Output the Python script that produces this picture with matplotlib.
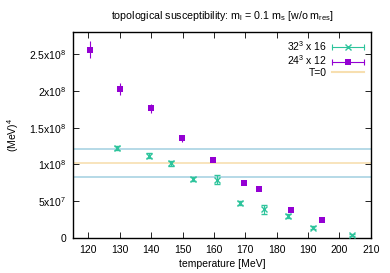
import matplotlib
matplotlib.use('Agg')
import matplotlib.pyplot as plt
from matplotlib.lines import Line2D
from matplotlib.legend_handler import HandlerLine2D, HandlerTuple

plt.rcParams['font.family'] = ['Liberation Sans', 'DejaVu Sans']
plt.rcParams['mathtext.fontset'] = 'custom'
plt.rcParams['mathtext.rm'] = 'Liberation Sans'
plt.rcParams['mathtext.it'] = 'Liberation Sans'

# 32^3 x 16
t32 = [129.1, 139.3, 146.3, 153.5, 160.9, 168.3, 176.0, 183.7, 191.7, 204.1]
chi32 = [1.22e8, 1.12e8, 1.015e8, 0.80e8, 0.79e8, 0.48e8, 0.39e8, 0.30e8, 0.14e8, 0.04e8]
err32 = [0.03e8, 0.03e8, 0.03e8, 0.03e8, 0.06e8, 0.025e8, 0.06e8, 0.03e8, 0.02e8, 0.015e8]

# 24^3 x 12
t24 = [120.4, 130.0, 140.0, 149.8, 159.6, 169.6, 174.5, 184.6, 194.5]
chi24 = [2.56e8, 2.02e8, 1.76e8, 1.355e8, 1.055e8, 0.75e8, 0.66e8, 0.385e8, 0.245e8]
err24 = [0.12e8, 0.08e8, 0.06e8, 0.05e8, 0.025e8, 0.015e8, 0.01e8, 0.015e8, 0.01e8]

# T=0 band
chi_T0 = 1.025e8
chi_T0_err = 0.19e8

green = '#2ec49c'
purple = '#9400d3'
orange = '#f7dfb0'
blue = '#a9d3e3'

def ytick(v, pos):
	if v == 0:
		return '0'
	e = 0
	m = v
	while m >= 10:
		m /= 10.0
		e += 1
	return ('%g' % m) + r'x10$^{%d}$' % e

fig = plt.figure(figsize=(3.9, 2.73), dpi=100)
ax = fig.add_axes([0.187, 0.128, 0.764, 0.755])

ax.axhline(chi_T0 + chi_T0_err, color=blue, lw=1.2, zorder=1)
ax.axhline(chi_T0 - chi_T0_err, color=blue, lw=1.2, zorder=1)
ax.axhline(chi_T0, color=orange, lw=1.2, zorder=1)
ax.errorbar(t32, chi32, yerr=err32, fmt='x', color=green, ms=4, mew=1,
			elinewidth=0.8, capsize=2.5, capthick=0.8, zorder=3)
ax.errorbar(t24, chi24, yerr=err24, fmt='s', color=purple, ms=4.5, mew=0,
			elinewidth=0.8, capsize=2.5, capthick=0.8, zorder=3)

ax.set_xlim(115.1, 210)
ax.set_ylim(0, 2.8e8)
ax.set_xticks(range(120, 211, 10))
ax.set_yticks([0, 0.5e8, 1e8, 1.5e8, 2e8, 2.5e8])
ax.yaxis.set_major_formatter(matplotlib.ticker.FuncFormatter(ytick))
ax.tick_params(direction='in', length=4, width=0.6, labelsize=7.5, top=True, right=True, pad=5)
for s in ax.spines.values():
	s.set_linewidth(1.0)

ax.set_xlabel('temperature [MeV]', fontsize=7.5, labelpad=3)
ax.set_ylabel(r'(MeV)$^4$', fontsize=7.5, labelpad=6)
ax.set_title(r'topological susceptibility: m$_l$ = 0.1 m$_s$ [w/o m$_{res}$]', fontsize=7.7, pad=9)

# legend handles: horizontal bar with end caps + centre marker
bar32 = Line2D([], [], color=green, lw=0.8, marker='|', ms=5, mew=0.8)
mk32 = Line2D([], [], color=green, ls='none', marker='x', ms=4, mew=1)
bar24 = Line2D([], [], color=purple, lw=0.8, marker='|', ms=5, mew=0.8)
mk24 = Line2D([], [], color=purple, ls='none', marker='s', ms=4.5, mew=0)
lT0 = Line2D([], [], color=orange, lw=1.5)
hm = {bar32: HandlerLine2D(numpoints=2, marker_pad=0), bar24: HandlerLine2D(numpoints=2, marker_pad=0),
	  mk32: HandlerLine2D(numpoints=1), mk24: HandlerLine2D(numpoints=1)}
ax.legend([(bar32, mk32), (bar24, mk24), lT0], [r'32$^3$ x 16', r'24$^3$ x 12', 'T=0'],
		  handler_map=hm, loc='upper right', fontsize=7.5, frameon=False, markerfirst=False,
		  handlelength=3.0, handletextpad=0.5, labelspacing=0.05, borderaxespad=0.3, borderpad=0.4)

plt.savefig('out.png', dpi=100)
